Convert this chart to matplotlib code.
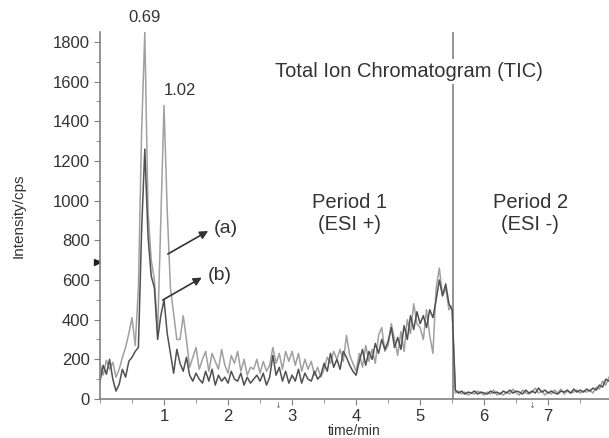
import numpy as np
import matplotlib
matplotlib.use('Agg')
import matplotlib.pyplot as plt
from matplotlib.ticker import MultipleLocator
from matplotlib.transforms import blended_transform_factory

plt.rcParams['font.family'] = ['Liberation Sans', 'DejaVu Sans']

# scan times (min), one scan every 0.05 min
time_min = np.round(np.arange(0, 7.96, 0.05), 2)

# trace (a) - light grey
tic_a = [
    175, 120, 195, 150, 185, 110, 150, 210, 260, 330,
    410, 270, 560, 1350, 1850, 950, 700, 600, 330, 900,
    1480, 950, 560, 430, 300, 300, 420, 300, 160, 210,
    260, 150, 200, 240, 140, 230, 190, 150, 250, 170,
    130, 220, 180, 240, 140, 200, 120, 160, 150, 200,
    130, 190, 140, 170, 260, 180, 230, 150, 240, 190,
    240, 170, 230, 140, 200, 150, 190, 120, 160, 110,
    150, 210, 180, 240, 200, 250, 190, 320, 220, 180,
    140, 230, 160, 270, 190, 250, 180, 320, 360, 240,
    270, 380, 300, 220, 340, 240, 400, 330, 480, 380,
    360, 300, 450, 320, 230, 560, 660, 520, 560, 450,
    470, 30, 40, 25, 35, 20, 30, 25, 40, 30,
    20, 35, 25, 45, 20, 30, 20, 35, 25, 50,
    30, 20, 45, 30, 25, 35, 55, 30, 40, 20,
    35, 25, 45, 30, 50, 25, 40, 30, 35, 45,
    30, 40, 35, 45, 30, 60, 50, 90, 70, 110,
]

# trace (b) - dark grey
tic_b = [
    90, 170, 125, 200, 100, 40, 75, 150, 110, 190,
    210, 240, 260, 850, 1260, 820, 620, 560, 300, 420,
    500, 330, 230, 130, 250, 180, 140, 210, 120, 90,
    130, 100, 80, 140, 90, 150, 70, 120, 90, 110,
    80, 140, 100, 90, 130, 70, 110, 80, 100, 120,
    90, 130, 70, 110, 220, 120, 160, 90, 140, 80,
    120, 90, 150, 80, 130, 100, 90, 140, 100, 120,
    180, 140, 230, 160, 200, 150, 240, 210, 170, 140,
    120, 190, 250, 170, 240, 200, 280, 230, 300, 250,
    290, 360, 260, 310, 250, 370, 300, 420, 350, 440,
    380, 420, 360, 450, 410, 500, 600, 520, 580, 480,
    450, 45, 30, 40, 25, 35, 30, 40, 25, 35,
    30, 25, 40, 30, 35, 25, 40, 30, 45, 30,
    40, 35, 25, 45, 30, 40, 30, 55, 35, 45,
    30, 40, 30, 25, 40, 35, 45, 30, 50, 35,
    45, 35, 50, 40, 55, 45, 70, 60, 100, 90,
]

peak_times = [0.69, 1.02]
peak_heights = [1850, 1480]
period_switch = 5.52
marker_times = [2.78, 6.75]

fig = plt.figure(figsize=(6.09, 4.38), dpi=100)
ax = fig.add_axes([100 / 609, 39 / 438, 509 / 609, 367 / 438])

ax.plot(time_min, tic_a, color='#a0a0a0', lw=1.1)
ax.plot(time_min, tic_b, color='#505050', lw=1.1)

# period separator
ax.axvline(period_switch, color='#808080', lw=1.2, zorder=1)

ax.set_xlim(0, 7.95)
ax.set_ylim(0, 1850)
ax.xaxis.set_major_locator(MultipleLocator(1))
ax.xaxis.set_minor_locator(MultipleLocator(0.5))
ax.yaxis.set_major_locator(MultipleLocator(200))
ax.yaxis.set_minor_locator(MultipleLocator(100))
ax.set_xticks([1, 2, 3, 4, 5, 6, 7])

for side in ['top', 'right']:
    ax.spines[side].set_visible(False)
for side in ['left', 'bottom']:
    ax.spines[side].set_color('#808080')
    ax.spines[side].set_linewidth(1.2)
ax.tick_params(which='both', colors='#808080', labelcolor='#333333', labelsize=12)
ax.tick_params(which='major', length=4)
ax.tick_params(which='minor', length=3)

ax.set_xlabel('time/min', fontsize=10, color='#333333', labelpad=0)
ax.set_ylabel('Intensity/cps', fontsize=11, color='#333333', labelpad=19)

# peak labels
for t, h in zip(peak_times, peak_heights):
    ax.text(t + 0.01 + (0.22 if t > 1 else 0), h + 35, f'{t:.2f}', ha='center', va='bottom',
            fontsize=12, color='#333333', clip_on=False)

ax.text(4.83, 1650, 'Total Ion Chromatogram (TIC)', ha='center', va='center',
        fontsize=14.5, color='#333333',
        bbox=dict(facecolor='white', edgecolor='none', pad=2))
ax.text(3.9, 935, 'Period 1\n(ESI +)', ha='center', va='center',
        fontsize=14.5, color='#333333', linespacing=1.25)
ax.text(6.72, 935, 'Period 2\n(ESI -)', ha='center', va='center',
        fontsize=14.5, color='#333333', linespacing=1.25)

# trace labels with arrows pointing from the trace to the label
arrow = dict(arrowstyle='-|>', color='#333333', lw=1.2, mutation_scale=12,
             shrinkA=0, shrinkB=0)
ax.annotate('', xy=(1.69, 847), xytext=(1.06, 731), arrowprops=arrow)
ax.annotate('', xy=(1.59, 612), xytext=(0.98, 499), arrowprops=arrow)
ax.text(1.97, 857, '(a)', ha='center', va='center', fontsize=14, color='#333333')
ax.text(1.875, 625, '(b)', ha='center', va='center', fontsize=14, color='#333333')

# small instrument markers
ax.plot([-0.05], [690], marker='>', color='#222222', ms=4, clip_on=False)
trans = blended_transform_factory(ax.transData, ax.transAxes)
for t in marker_times:
    ax.text(t, -0.018, '↓', transform=trans, ha='center', va='center',
            fontsize=6, color='#777777', family='DejaVu Sans')

fig.savefig('out.png', dpi=100)
